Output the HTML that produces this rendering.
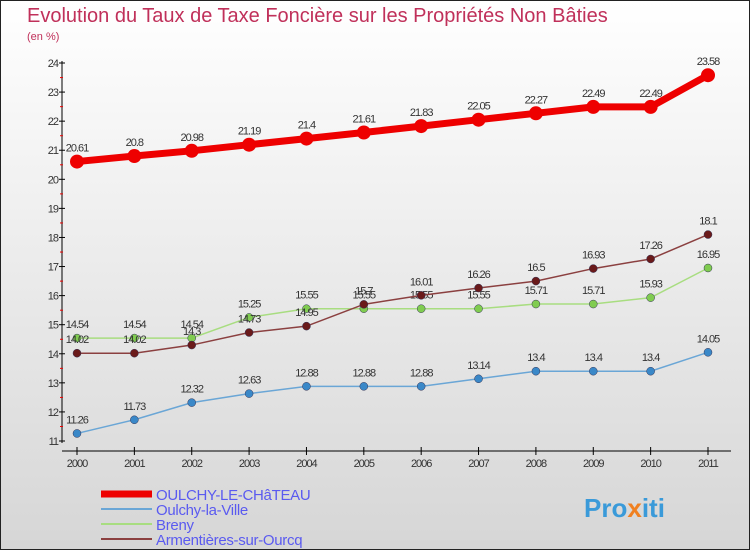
<!DOCTYPE html>
<html><head><meta charset="utf-8"><style>
body{margin:0;}
#c{width:750px;height:550px;position:relative;overflow:hidden;box-sizing:border-box;border:1px solid #222;background:linear-gradient(#ffffff,#d6d6d6);font-family:"Liberation Sans","DejaVu Sans",sans-serif;}
</style></head><body>
<div id="c">
<svg id="s" width="750" height="550" xmlns="http://www.w3.org/2000/svg">
<text x="26" y="21" font-size="20" fill="#c0305a">Evolution du Taux de Taxe Foncière sur les Propriétés Non Bâties</text>
<text x="26" y="39" font-size="11" fill="#c0305a">(en %)</text>
<g id="ax"></g><g id="ser"></g><g id="leg"></g>
<text x="583" y="516" font-size="26" font-weight="bold" fill="#3a9ad9">Pro<tspan fill="#f08020">x</tspan>iti</text>
</svg></div>
<script>
const years=[2000,2001,2002,2003,2004,2005,2006,2007,2008,2009,2010,2011];
const yTicks=[11,12,13,14,15,16,17,18,19,20,21,22,23,24];
const chateau=[20.61,20.8,20.98,21.19,21.4,21.61,21.83,22.05,22.27,22.49,22.49,23.58];
const ville=[11.26,11.73,12.32,12.63,12.88,12.88,12.88,13.14,13.4,13.4,13.4,14.05];
const breny=[14.54,14.54,14.54,15.25,15.55,15.55,15.55,15.55,15.71,15.71,15.93,16.95];
const armentieres=[14.02,14.02,14.3,14.73,14.95,15.7,16.01,16.26,16.5,16.93,17.26,18.1];
const names=["OULCHY-LE-CHâTEAU","Oulchy-la-Ville","Breny","Armentières-sur-Ourcq"];
const NS="http://www.w3.org/2000/svg";
const x=i=>76+i*(707-76)/11;
const y=v=>440-(v-11)*(440-62)/13;
function mk(t,a,p){const e=document.createElementNS(NS,t);for(const k in a)e.setAttribute(k,a[k]);p.appendChild(e);return e;}
const ax=document.getElementById('ax');
let l=mk('line',{x1:61,y1:60,x2:61,y2:442,stroke:'#000','stroke-width':1},ax);

l=mk('line',{x1:61,y1:450,x2:730,y2:450,stroke:'#000','stroke-width':1},ax);

yTicks.forEach(v=>{const yy=y(v);
 let t=mk('line',{x1:58,y1:yy,x2:64,y2:yy,stroke:'#000'},ax);
 
 if(v<24){let h=mk('line',{x1:59,y1:yy-14.5,x2:62,y2:yy-14.5,stroke:'#e00'},ax);
 }
 let tx=mk('text',{x:57,y:yy+4,'font-size':11,fill:'#333','text-anchor':'end','letter-spacing':'-1'},ax);tx.textContent=v;
 });
years.forEach((yr,i)=>{
 let t=mk('line',{x1:x(i),y1:446,x2:x(i),y2:454,stroke:'#000'},ax);
 
 let tx=mk('text',{x:x(i),y:466,'font-size':11,fill:'#333','text-anchor':'middle','letter-spacing':'-1'},ax);tx.textContent=yr;
 });
const series=[[ville,'#6aa6d6','#3a88c8',1.5,4],[breny,'#a8dd80','#80cc50',1.5,4],[armentieres,'#8b4040','#6a1a1a',1.5,4],[chateau,'#ee0000','#ee0000',7,7]];
const ser=document.getElementById('ser');
const keys=['oulchy-la-ville','breny','armentieres','oulchy-le-chateau'];
series.forEach(([d,lc,pc,w,r],k)=>{
 const g=mk('g',{},ser);
 let p=mk('polyline',{points:d.map((v,i)=>x(i)+','+y(v)).join(' '),fill:'none',stroke:lc,'stroke-width':w},g);
 
 d.forEach((v,i)=>{let c=mk('circle',{cx:x(i),cy:y(v),r:r,fill:pc,stroke:k==3?'#c00':'#335','stroke-width':k==3?0:0.5},g);
  
  let t=mk('text',{x:x(i),y:y(v)-10,'font-size':11,fill:'#333','text-anchor':'middle','letter-spacing':'-1'},g);t.textContent=v;
  });
});
const leg=document.getElementById('leg');
const lc=[['#ee0000',7],['#6aa6d6',2],['#a8dd80',2],['#8b4040',2]];
names.forEach((n,k)=>{const yy=493+k*15;
 let ln=mk('line',{x1:100,y1:yy,x2:151,y2:yy,stroke:lc[k][0],'stroke-width':lc[k][1]},leg);
 
 let t=mk('text',{x:155,y:yy+6,'font-size':15,fill:'#5a5af0','letter-spacing':'-0.3'},leg);t.textContent=n;
 });
</script></body></html>
